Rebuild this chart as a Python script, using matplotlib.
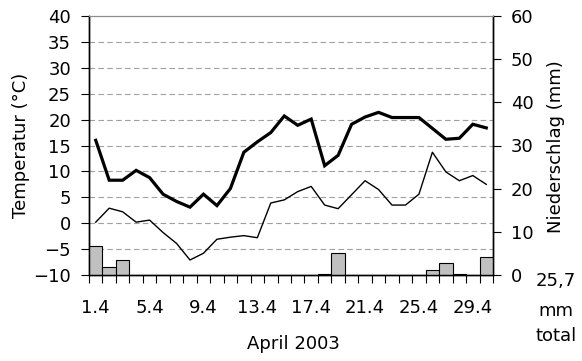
import matplotlib
matplotlib.use('Agg')
import matplotlib.pyplot as plt
from matplotlib.ticker import FixedLocator, MultipleLocator

# Tagesdaten April 2003
days = list(range(1, 31))
t_max = [16.0, 8.3, 8.3, 10.2, 8.8, 5.6, 4.2, 3.1, 5.6, 3.4,
         6.7, 13.7, 15.7, 17.5, 20.7, 18.9, 20.1, 11.1, 13.1, 19.1,
         20.5, 21.4, 20.4, 20.4, 20.4, 18.3, 16.2, 16.4, 19.1, 18.4]
t_min = [0.2, 2.9, 2.2, 0.2, 0.6, -1.8, -3.9, -7.1, -5.8, -3.1,
         -2.7, -2.4, -2.8, 3.9, 4.5, 6.1, 7.1, 3.5, 2.8, 5.5,
         8.2, 6.5, 3.5, 3.5, 5.6, 13.7, 9.9, 8.2, 9.2, 7.5]
rain = [6.7, 1.9, 3.5, 0, 0, 0, 0, 0, 0, 0,
        0, 0, 0, 0, 0, 0, 0, 0.3, 5.1, 0,
        0, 0, 0, 0, 0, 1.1, 2.7, 0.3, 0, 4.1]
tick_days = [1, 5, 9, 13, 17, 21, 25, 29]
tick_labels = ['1.4', '5.4', '9.4', '13.4', '17.4', '21.4', '25.4', '29.4']

plt.rcParams['font.family'] = ['DejaVu Sans']
plt.rcParams['font.size'] = 13

W, H = 582, 361
fig = plt.figure(figsize=(W / 100, H / 100), dpi=100)
ax = fig.add_axes([89 / W, 1 - 275 / H, 404 / W, 259 / H])
ax2 = ax.twinx()

# Temperatur
ax.plot(days, t_max, color='black', lw=2.3, solid_joinstyle='miter')
ax.plot(days, t_min, color='black', lw=1.0)
ax.set_xlim(0.5, 30.5)
ax.set_ylim(-10, 40)
ax.yaxis.set_major_locator(MultipleLocator(5))
for y in range(-5, 40, 5):
    ax.axhline(y, color='#a0a0a0', lw=0.8, linestyle=(0, (5, 3)), zorder=0)

# Niederschlag (nur Tage mit Regen)
rd = [d for d, r in zip(days, rain) if r > 0]
rv = [r for r in rain if r > 0]
ax2.bar(rd, rv, width=1.0, color='#c0c0c0', edgecolor='black', lw=0.8)
ax2.set_ylim(0, 60)
ax2.yaxis.set_major_locator(MultipleLocator(10))
ax2.set_xlim(0.5, 30.5)

ax.xaxis.set_major_locator(FixedLocator(tick_days))
ax.set_xticklabels(tick_labels)
ax.xaxis.set_minor_locator(FixedLocator([d + 0.5 for d in range(0, 31)]))
ax.tick_params(axis='x', which='major', length=0, pad=17)
ax.tick_params(axis='x', which='minor', length=6, direction='out', width=0.8)
ax.tick_params(axis='y', length=6, direction='out', width=0.8, pad=7)
ax2.tick_params(axis='y', length=6, direction='out', width=0.8, pad=7)

for a in (ax, ax2):
    a.spines['top'].set_color('#8c8c8c')
    a.spines['left'].set_linewidth(1.0)
    a.spines['right'].set_linewidth(1.0)
    a.spines['bottom'].set_linewidth(1.0)

fig.text(21 / W, 1 - 145 / H, 'Temperatur (°C)', rotation=90, ha='center', va='center')
fig.text(556 / W, 1 - 147 / H, 'Niederschlag (mm)', rotation=90, ha='center', va='center')
fig.text(293 / W, 1 - 344 / H, 'April 2003', ha='center', va='center')
fig.text(556 / W, 1 - 281 / H, '25,7', ha='center', va='center')
fig.text(556 / W, 1 - 311 / H, 'mm', ha='center', va='center')
fig.text(556 / W, 1 - 336 / H, 'total', ha='center', va='center')

fig.savefig('out.png', dpi=100)
